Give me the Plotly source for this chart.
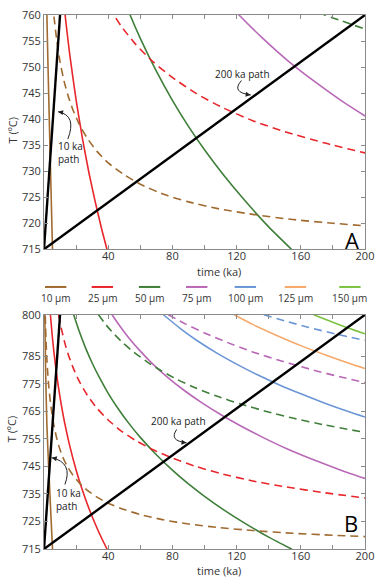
import plotly.graph_objects as go

# ---------------- data ----------------
size_labels = ["10 µm", "25 µm", "50 µm", "75 µm", "100 µm", "125 µm", "150 µm"]
size_colors = ["#a06a30", "#e8262b", "#3f7f3a", "#b968b8", "#6b96d6", "#f6a96b", "#7dc143"]

# solid curves: time (ka) and T (°C)
t_10_solid = [0.5, 1.0, 1.8, 2.9, 4.0, 5.3]
T_10_solid = [800, 780, 760, 745, 731, 715]
t_25_solid = [4, 5, 6, 7.5, 9, 11, 13, 16, 20, 24, 28, 32, 36, 39.5]
T_25_solid = [800, 793.2, 787.4, 780.0, 773.7, 766.6, 760.4, 752.5, 743.7, 736.2, 729.7, 724.0, 718.8, 714.7]
t_50_solid = [18.5, 22, 26, 30, 35, 40, 46, 53, 60, 70, 80, 90, 100, 112, 125, 140, 154.5]
T_50_solid = [800, 793.9, 787.8, 782.5, 776.7, 771.5, 766.1, 760.5, 755.5, 749.2, 743.6, 738.6, 734.1, 729.2, 724.4, 719.3, 714.9]
t_75_solid = [42.4, 47, 53, 60, 68, 77, 87, 98, 110, 121.8, 136, 152, 170, 185, 200]
T_75_solid = [800, 796.1, 791.5, 786.8, 782.0, 777.3, 772.7, 768.2, 763.8, 759.9, 755.6, 751.2, 746.9, 743.6, 740.6]
t_100_solid = [74.4, 85, 96, 108, 120, 133, 146, 160, 175, 190, 200]
T_100_solid = [800, 795.0, 790.4, 786.0, 782.1, 778.2, 774.7, 771.3, 767.9, 764.8, 762.9]
t_125_solid = [118.5, 130, 145, 160, 175, 190, 200]
T_125_solid = [800, 796.5, 792.5, 788.8, 785.5, 782.4, 780.5]
t_150_solid = [168, 178, 189, 200]
T_150_solid = [800, 797.7, 795.3, 793.1]

# dashed curves
t_10_dash = [0.8, 1.0, 1.3, 1.7, 2.2, 3, 4, 5, 6.1, 8, 10, 12.5, 15, 18, 22, 27, 33, 40, 50, 60, 75, 90, 110, 130, 155, 180, 200]
T_10_dash = [799.6, 795.3, 790.1, 784.9, 779.9, 773.8, 768.2, 763.9, 760, 755.0, 751.0, 747.3, 744.5, 741.8, 739.0, 736.3, 733.8, 731.6, 729.3, 727.5, 725.5, 724.1, 722.7, 721.7, 720.7, 720.0, 719.5]
t_25_dash = [9.1, 11, 13, 15, 18, 22, 27, 33, 40, 48, 57, 68, 80, 95, 110, 130, 150, 175, 200]
T_25_dash = [800, 794.5, 789.7, 785.8, 781.0, 775.8, 770.8, 766.1, 761.8, 757.9, 754.4, 751.0, 748.0, 744.9, 742.4, 739.7, 737.6, 735.4, 733.5]
t_50_dash = [34, 38, 43, 49, 56, 64, 73, 83, 95, 108, 122, 138, 155, 175, 200]
T_50_dash = [800, 796.8, 793.4, 789.9, 786.4, 783.0, 779.7, 776.5, 773.3, 770.4, 767.7, 765.0, 762.5, 760.0, 757.3]
t_75_dash = [77.5, 88, 100, 114, 130, 148, 168, 185, 200]
T_75_dash = [800, 796.7, 793.4, 790.0, 786.5, 783.2, 779.9, 777.4, 775.4]
t_100_dash = [137, 150, 165, 182, 200]
T_100_dash = [800, 797.8, 795.4, 793.0, 790.7]

solid_t = [t_10_solid, t_25_solid, t_50_solid, t_75_solid, t_100_solid, t_125_solid, t_150_solid]
solid_T = [T_10_solid, T_25_solid, T_50_solid, T_75_solid, T_100_solid, T_125_solid, T_150_solid]
dash_t = [t_10_dash, t_25_dash, t_50_dash, t_75_dash, t_100_dash]
dash_T = [T_10_dash, T_25_dash, T_50_dash, T_75_dash, T_100_dash]

# heating paths: duration (ka); start temperature; end temperature per panel
path_durations = [10, 200]
T_start = 715
T_end_A = 760
T_end_B = 800

# axis ticks
x_tickvals = [20, 40, 60, 80, 100, 120, 140, 160, 180, 200]
x_ticktext = ["", "40", "", "80", "", "120", "", "160", "", "200"]
yA_tickvals = [715, 720, 725, 730, 735, 740, 745, 750, 755, 760]
yB_tickvals = [715, 725, 735, 745, 755, 765, 775, 785, 800]

# ---------------- layout geometry (pixels) ----------------
W, H = 381, 577
L, R = 44, 374
A_top, A_bot = 11, 247
B_top, B_bot = 313, 549
PH = B_bot - A_top

def xp(px):  # pixel -> data x
    return (px - L) / (R - L) * 200

def yA(py):
    return 715 + (A_bot - py) * 45 / (A_bot - A_top)

def yB(py):
    return 715 + (B_bot - py) * 85 / (B_bot - B_top)

def paper_x(px):
    return (px - L) / (R - L)

def paper_y(py):
    return (B_bot - py) / PH

FONT = "Open Sans"
fig = go.Figure()

panels = [("x", "y"), ("x2", "y2")]
for xa, ya in panels:
    for tt, TT, c in zip(solid_t, solid_T, size_colors):
        fig.add_trace(go.Scatter(x=tt, y=TT, mode="lines", xaxis=xa, yaxis=ya,
                                 line=dict(color=c, width=1.6, shape="spline", smoothing=0.6),
                                 showlegend=False, hoverinfo="skip"))
    for tt, TT, c in zip(dash_t, dash_T, size_colors):
        fig.add_trace(go.Scatter(x=tt, y=TT, mode="lines", xaxis=xa, yaxis=ya,
                                 line=dict(color=c, width=1.6, shape="spline", smoothing=0.6, dash="8px,5px"),
                                 showlegend=False, hoverinfo="skip"))

for (xa, ya), Tend in zip(panels, [T_end_A, T_end_B]):
    for d in path_durations:
        fig.add_trace(go.Scatter(x=[0, d], y=[T_start, Tend], mode="lines", xaxis=xa, yaxis=ya,
                                 line=dict(color="black", width=2.4),
                                 showlegend=False, hoverinfo="skip"))

axis_common = dict(showline=True, linecolor="#8a8a8a", linewidth=1, mirror="ticks",
                   ticks="inside", ticklen=4, tickcolor="#8a8a8a", showgrid=False,
                   zeroline=False, tickfont=dict(family=FONT, size=11, color="#333"),
                   ticklabeloverflow="allow")
x_common = dict(axis_common, ticklabelstandoff=-3)

fig.update_layout(
    width=W, height=H, paper_bgcolor="white", plot_bgcolor="white",
    margin=dict(l=L, r=W - R, t=A_top, b=H - B_bot),
    showlegend=False,
    xaxis=dict(domain=[0, 1], range=[0, 200], anchor="y", tickvals=x_tickvals, ticktext=x_ticktext, **x_common),
    yaxis=dict(domain=[paper_y(A_bot), 1], range=[715, 760], anchor="x", tickvals=yA_tickvals, **axis_common),
    xaxis2=dict(domain=[0, 1], range=[0, 200], anchor="y2", tickvals=x_tickvals, ticktext=x_ticktext, **x_common),
    yaxis2=dict(domain=[0, paper_y(B_top)], range=[715, 800], anchor="x2", tickvals=yB_tickvals, **axis_common),
)

ann = []
shapes = []
# axis titles
for py in [269, 571]:
    ann.append(dict(text="time (ka)", x=paper_x(224), y=paper_y(py), xref="paper", yref="paper",
                    showarrow=False, font=dict(family=FONT, size=11, color="#333"),
                    xanchor="center", yanchor="middle"))
for py in [127, 428]:
    ann.append(dict(text="T (ºC)", x=paper_x(11.5), y=paper_y(py), xref="paper", yref="paper",
                    showarrow=False, textangle=-90, font=dict(family=FONT, size=11, color="#333"),
                    xanchor="center", yanchor="middle"))
# panel letters
ann.append(dict(text="A", x=xp(361), y=yA(238), xref="x", yref="y", showarrow=False,
                font=dict(family=FONT, size=22, color="black"), xanchor="center", yanchor="middle"))
ann.append(dict(text="B", x=xp(360), y=yB(523), xref="x2", yref="y2", showarrow=False,
                font=dict(family=FONT, size=22, color="black"), xanchor="center", yanchor="middle"))

# path labels
lab_font = dict(family=FONT, size=10, color="#222")
ann.append(dict(text="10 ka<br>path", x=xp(56), y=yA(150), xref="x", yref="y", showarrow=False,
                font=lab_font, xanchor="left", yanchor="middle", align="left"))
ann.append(dict(text="10 ka<br>path", x=xp(54), y=yB(499), xref="x2", yref="y2", showarrow=False,
                font=lab_font, xanchor="left", yanchor="middle", align="left"))
ann.append(dict(text="200 ka path", x=xp(248), y=yA(70), xref="x", yref="y", showarrow=False,
                font=lab_font, xanchor="center", yanchor="middle"))
ann.append(dict(text="200 ka path", x=xp(182), y=yB(420), xref="x2", yref="y2", showarrow=False,
                font=lab_font, xanchor="center", yanchor="middle"))

# curved arrows: (start, control, tip) in pixels, panel
arrows = [
    ((68.5, 136), (78, 112), (58.5, 108.5), "x", "y", yA),
    ((65.5, 484), (74, 462), (52, 457), "x2", "y2", yB),
    ((247, 77), (236, 89), (256.5, 91.5), "x", "y", yA),
    ((180.5, 428.5), (172, 440), (190.5, 442), "x2", "y2", yB),
]
for (s, c, t, xr, yr, yf) in arrows:
    shapes.append(dict(type="path", xref=xr, yref=yr,
                       path=f"M {xp(s[0])},{yf(s[1])} Q {xp(c[0])},{yf(c[1])} {xp(t[0])},{yf(t[1])}",
                       line=dict(color="#222", width=1)))
    dx, dy = t[0] - c[0], t[1] - c[1]
    n = (dx * dx + dy * dy) ** 0.5
    ann.append(dict(x=xp(t[0]), y=yf(t[1]), xref=xr, yref=yr, text="", showarrow=True,
                    ax=-dx / n * 5, ay=-dy / n * 5, arrowhead=2, arrowsize=1, arrowwidth=1,
                    arrowcolor="#222"))

# legend (custom row between panels)
leg_x = [56, 104, 152.5, 201, 251, 302.5, 358.5]
for lbl, col, cx in zip(size_labels, size_colors, leg_x):
    shapes.append(dict(type="line", xref="paper", yref="paper",
                       x0=paper_x(cx - 11), x1=paper_x(cx + 11), y0=paper_y(285), y1=paper_y(285),
                       line=dict(color=col, width=2)))
    ann.append(dict(text=lbl, x=paper_x(cx), y=paper_y(296), xref="paper", yref="paper",
                    showarrow=False, font=dict(family=FONT, size=10, color="#333"),
                    xanchor="center", yanchor="middle"))

fig.update_layout(annotations=ann, shapes=shapes)
fig.write_html("out.html")
